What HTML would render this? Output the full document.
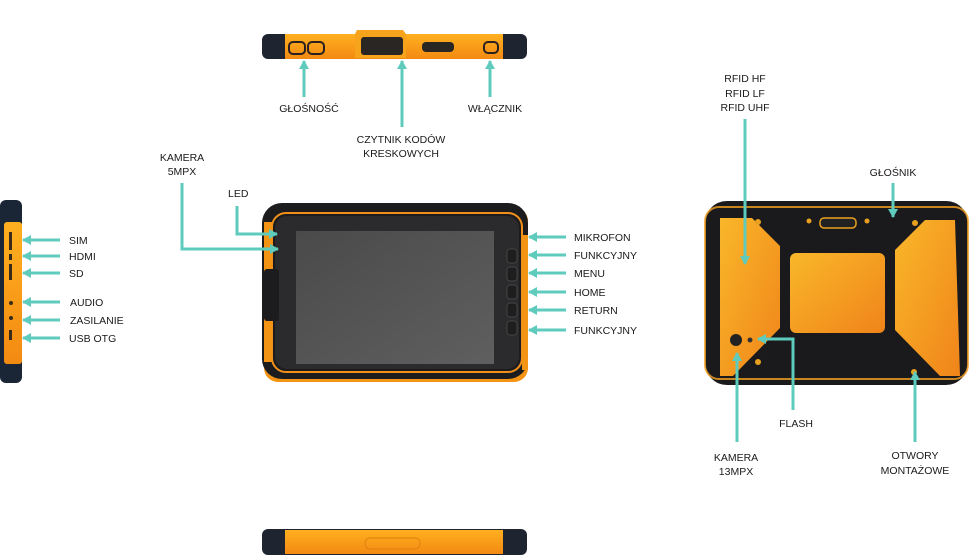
<!DOCTYPE html>
<html><head><meta charset="utf-8"><style>
html,body{margin:0;padding:0;background:#fff;}
svg{display:block}
text{font-family:"Liberation Sans",sans-serif;font-size:10.5px;fill:#1a1a1a;}
</style></head><body>
<svg width="970" height="557" viewBox="0 0 970 557" xmlns="http://www.w3.org/2000/svg">
<defs>
<linearGradient id="or" x1="0" y1="0" x2="0" y2="1"><stop offset="0" stop-color="#ffb020"/><stop offset="1" stop-color="#f38a12"/></linearGradient>
<linearGradient id="orb" x1="0" y1="0" x2="1" y2="1"><stop offset="0" stop-color="#f9b72a"/><stop offset="1" stop-color="#f0841a"/></linearGradient>
<linearGradient id="scr" x1="0" y1="0" x2="1" y2="1"><stop offset="0" stop-color="#4a4a4a"/><stop offset="1" stop-color="#5f5f5f"/></linearGradient>
<marker id="ah" markerWidth="9" markerHeight="10" refX="8" refY="5" orient="auto" markerUnits="userSpaceOnUse"><path d="M0,0 L9,5 L0,10 z" fill="#5ecbbd"/></marker>
</defs>

<!-- TOP VIEW -->
<rect x="262" y="34" width="265" height="25" rx="6" fill="#1e2530"/>
<rect x="285" y="34" width="218" height="25" fill="url(#or)"/>
<path d="M355,34 L357,30 L403,30 L406,34 L406,58 L355,58 z" fill="#f6a41c"/>
<rect x="361" y="37" width="42" height="18" rx="3" fill="#2a2624"/>
<rect x="289" y="42" width="16" height="12" rx="4" fill="none" stroke="#2a2020" stroke-width="2"/>
<rect x="308" y="42" width="16" height="12" rx="4" fill="none" stroke="#2a2020" stroke-width="2"/>
<rect x="422" y="42" width="32" height="10" rx="4" fill="#2a2624"/>
<rect x="484" y="42" width="14" height="11" rx="4" fill="none" stroke="#2a2020" stroke-width="2"/>

<!-- FRONT VIEW -->
<rect x="264" y="207" width="264" height="175" rx="14" fill="#f39415"/>
<rect x="262" y="203" width="266" height="176" rx="20" fill="#1c1c1e"/>
<rect x="272" y="213" width="250" height="159" rx="14" fill="none" stroke="#f0901a" stroke-width="2"/>
<rect x="275" y="216" width="244" height="153" rx="12" fill="#2b2b2d"/>
<rect x="296" y="231" width="198" height="133" fill="url(#scr)"/>
<rect x="264" y="222" width="8" height="140" fill="#f39415"/>
<rect x="522" y="235" width="6" height="135" fill="#f39415"/>
<rect x="264" y="269" width="15" height="52" rx="3" fill="#1c1c1e"/>
<g fill="#1e1e1e" stroke="#444" stroke-width="1">
<rect x="507" y="249" width="10" height="14" rx="3"/><rect x="507" y="267" width="10" height="14" rx="3"/><rect x="507" y="285" width="10" height="14" rx="3"/><rect x="507" y="303" width="10" height="14" rx="3"/><rect x="507" y="321" width="10" height="14" rx="3"/>
</g>

<!-- LEFT SIDE -->
<rect x="0" y="200" width="22" height="183" rx="6" fill="#1a2535"/>
<rect x="4" y="222" width="18" height="142" rx="3" fill="url(#or)"/>
<g fill="#3a2a1a"><rect x="9" y="232" width="3" height="18"/><rect x="9" y="254" width="3" height="6"/><rect x="9" y="264" width="3" height="16"/><circle cx="11" cy="303" r="2"/><circle cx="11" cy="318" r="2"/><rect x="9" y="330" width="3" height="10"/></g>

<!-- BACK VIEW -->
<rect x="705" y="201" width="263" height="184" rx="22" fill="#1a1a1c"/>
<rect x="705" y="207" width="263" height="172" rx="14" fill="none" stroke="#f5a020" stroke-width="2" opacity="0.8"/>
<path d="M720,218 L752,218 L780,246 L780,328 L733,376 L720,376 z" fill="url(#orb)"/>
<rect x="790" y="253" width="95" height="80" rx="6" fill="url(#orb)"/>
<path d="M955,220 L925,220 L895,250 L895,330 L940,376 L960,376 z" fill="url(#orb)"/>
<rect x="820" y="218" width="36" height="10" rx="4" fill="#222" stroke="#e9a020" stroke-width="1.5"/>
<circle cx="736" cy="340" r="6" fill="#222"/>
<circle cx="750" cy="340" r="2.5" fill="#333"/>
<g fill="#e9a020"><circle cx="758" cy="222" r="3"/><circle cx="914" cy="372" r="3"/><circle cx="758" cy="362" r="3"/><circle cx="915" cy="223" r="3"/><circle cx="809" cy="221" r="2.5"/><circle cx="867" cy="221" r="2.5"/></g>

<!-- BOTTOM VIEW -->
<rect x="262" y="529" width="265" height="26" rx="6" fill="#1e2530"/>
<rect x="285" y="530" width="218" height="24" fill="url(#or)"/>
<rect x="365" y="538" width="55" height="11" rx="5" fill="none" stroke="#e08010" stroke-width="1"/>

<!-- CONNECTORS -->
<g stroke="#5ecbbd" stroke-width="3" fill="none" marker-end="url(#ah)">
<line x1="304" y1="97" x2="304" y2="61"/>
<line x1="402" y1="127" x2="402" y2="61"/>
<line x1="490" y1="97" x2="490" y2="61"/>
<polyline points="182,183 182,249 278,249"/>
<polyline points="237,206 237,234 277,234"/>
<line x1="566" y1="237" x2="529" y2="237"/>
<line x1="566" y1="255" x2="529" y2="255"/>
<line x1="566" y1="273" x2="529" y2="273"/>
<line x1="566" y1="292" x2="529" y2="292"/>
<line x1="566" y1="310" x2="529" y2="310"/>
<line x1="566" y1="330" x2="529" y2="330"/>
<line x1="60" y1="240" x2="23" y2="240"/>
<line x1="60" y1="256" x2="23" y2="256"/>
<line x1="60" y1="273" x2="23" y2="273"/>
<line x1="60" y1="302" x2="23" y2="302"/>
<line x1="60" y1="320" x2="23" y2="320"/>
<line x1="60" y1="338" x2="23" y2="338"/>
<line x1="745" y1="119" x2="745" y2="264"/>
<line x1="893" y1="183" x2="893" y2="217"/>
<line x1="737" y1="442" x2="737" y2="353"/>
<polyline points="793,410 793,339 758,339"/>
<line x1="915" y1="442" x2="915" y2="372"/>
</g>

<!-- LABELS -->
<g text-anchor="middle">
<text x="309" y="112">GŁOŚNOŚĆ</text>
<text x="495" y="112">WŁĄCZNIK</text>
<text x="401" y="143">CZYTNIK KODÓW</text>
<text x="401" y="157">KRESKOWYCH</text>
<text x="182" y="161">KAMERA</text>
<text x="182" y="175">5MPX</text>
<text x="745" y="82">RFID HF</text>
<text x="745" y="97">RFID LF</text>
<text x="745" y="111">RFID UHF</text>
<text x="893" y="176">GŁOŚNIK</text>
<text x="796" y="427">FLASH</text>
<text x="736" y="461">KAMERA</text>
<text x="736" y="475">13MPX</text>
<text x="915" y="459">OTWORY</text>
<text x="915" y="474">MONTAŻOWE</text>
</g>
<text x="228" y="197">LED</text>
<g>
<text x="574" y="241">MIKROFON</text>
<text x="574" y="259">FUNKCYJNY</text>
<text x="574" y="277">MENU</text>
<text x="574" y="296">HOME</text>
<text x="574" y="314">RETURN</text>
<text x="574" y="334">FUNKCYJNY</text>
<text x="69" y="244">SIM</text>
<text x="69" y="260">HDMI</text>
<text x="69" y="277">SD</text>
<text x="70" y="306">AUDIO</text>
<text x="70" y="324">ZASILANIE</text>
<text x="69" y="342">USB OTG</text>
</g>
</svg>
</body></html>
